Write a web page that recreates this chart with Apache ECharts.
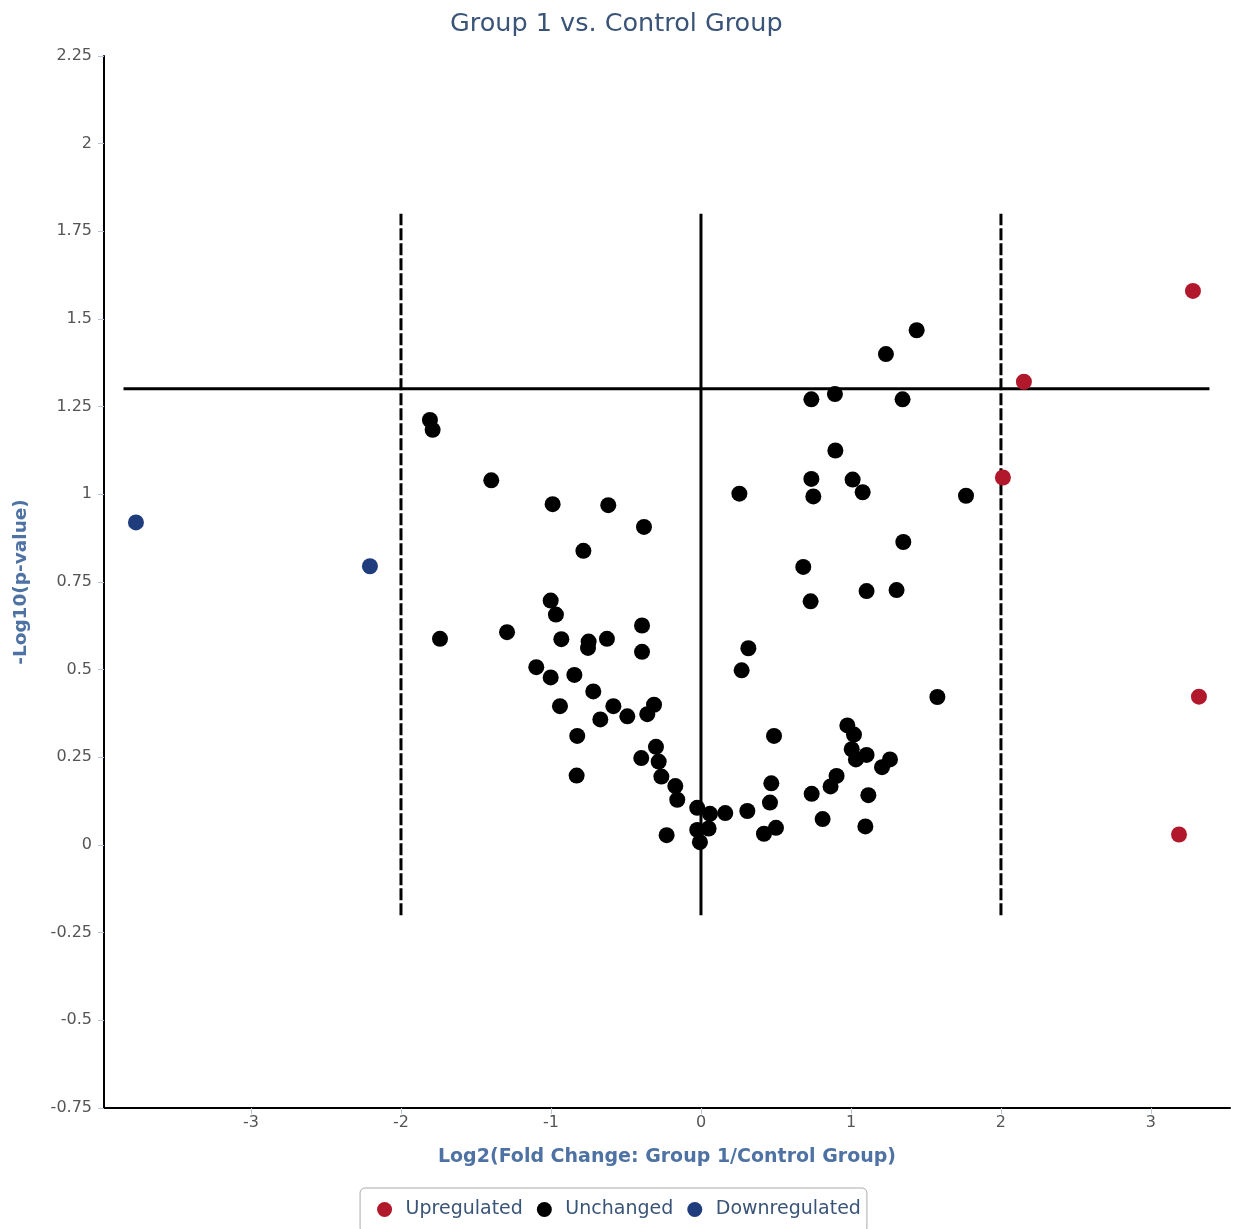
<!DOCTYPE html>
<html>
<head>
<meta charset="utf-8">
<script src="https://cdn.jsdelivr.net/npm/echarts@6/dist/echarts.min.js"></script>
<style>
html,body{margin:0;padding:0;background:#fff;}
#chart{width:1238px;height:1229px;}
</style>
</head>
<body>
<div id="chart"></div>
<script>
// ---- Data (log2 fold change, -log10 p-value) ----
var upregulated = [
  [3.28, 1.580], [2.153, 1.321], [2.013, 1.048], [3.32, 0.423], [3.187, 0.030]
];
var downregulated = [
  [-3.767, 0.920], [-2.207, 0.795]
];
var unchanged = [
  [-1.807, 1.212], [-1.789, 1.184], [-1.398, 1.040], [-0.989, 0.972], [-0.618, 0.969],
  [-0.380, 0.907], [-0.784, 0.839], [-1.002, 0.697], [-0.967, 0.657], [-1.740, 0.588],
  [-1.293, 0.607], [-0.931, 0.587], [-0.749, 0.580], [-0.753, 0.562], [-0.627, 0.588],
  [-0.393, 0.626], [-0.393, 0.551], [-1.098, 0.507], [-1.002, 0.478], [-0.844, 0.485],
  [-0.718, 0.438], [-0.940, 0.396], [-0.584, 0.396], [-0.671, 0.358], [-0.491, 0.367],
  [-0.313, 0.400], [-0.358, 0.373], [-0.825, 0.311], [-0.300, 0.280], [-0.398, 0.248],
  [-0.282, 0.238], [-0.264, 0.195], [-0.829, 0.198], [-0.171, 0.168], [-0.158, 0.129],
  [-0.229, 0.028], [-0.025, 0.106], [0.060, 0.089], [0.162, 0.091], [0.309, 0.097],
  [-0.025, 0.043], [0.051, 0.047], [-0.007, 0.008],
  [0.316, 0.561], [0.271, 0.498], [1.576, 0.422], [0.487, 0.311], [0.976, 0.341],
  [1.020, 0.315], [1.005, 0.273], [1.033, 0.244], [1.104, 0.257], [1.260, 0.244],
  [1.207, 0.222], [0.904, 0.197], [0.864, 0.167], [0.738, 0.146], [1.116, 0.142],
  [0.811, 0.074], [1.096, 0.053], [0.469, 0.176], [0.460, 0.121], [0.500, 0.049],
  [0.420, 0.032], [1.438, 1.468], [1.233, 1.400], [0.736, 1.271], [0.893, 1.286],
  [1.344, 1.271], [0.896, 1.125], [0.736, 1.044], [1.011, 1.042], [0.256, 1.002],
  [0.749, 0.994], [1.078, 1.006], [1.767, 0.996], [1.349, 0.864], [0.682, 0.793],
  [1.104, 0.724], [1.304, 0.727], [0.731, 0.695]
];
// threshold guide lines
var foldThresholds = [-2, 2];
var centerLine = 0;
var vLineRange = [-0.2, 1.8];
var pThreshold = 1.301;
var hLineRange = [-3.85, 3.39];
var xTicks = [-3, -2, -1, 0, 1, 2, 3];
var xRange = [-3.98, 3.527];
var yRange = [-0.75, 2.25];

var FONT = 'DejaVu Sans';
var labelBlue = '#4d72a3';
var tickColor = '#b8c8de';

function vline(x, dashed) {
  return {
    type: 'line', data: [[x, vLineRange[0]], [x, vLineRange[1]]],
    symbol: 'none', silent: true, z: 1,
    lineStyle: { color: '#000', width: 3, type: dashed ? [12, 3] : 'solid' }
  };
}

var chart = echarts.init(document.getElementById('chart'), null, { renderer: 'canvas' });
chart.setOption({
  animation: false,
  backgroundColor: '#fff',
  title: {
    text: 'Group 1 vs. Control Group', left: 445, top: 6,
    textStyle: { fontFamily: FONT, fontSize: 25.5, fontWeight: 'normal', color: '#3a5478' }
  },
  legend: {
    data: ['Upregulated', 'Unchanged', 'Downregulated'],
    left: 'center', top: 1188,
    icon: 'circle', itemWidth: 32, itemHeight: 15, itemGap: 14,
    borderColor: '#aaa', borderWidth: 1, borderRadius: 5,
    padding: [12, 6, 14, 17],
    textStyle: { fontFamily: FONT, fontSize: 19, color: '#3a5478' }
  },
  grid: { left: 104, right: 8, top: 56, bottom: 121, containLabel: false },
  xAxis: {
    type: 'value', min: xRange[0], max: xRange[1],
    name: 'Log2(Fold Change: Group 1/Control Group)',
    nameLocation: 'middle', nameGap: 40,
    nameTextStyle: { fontFamily: FONT, fontSize: 19, fontWeight: 'bold', color: labelBlue },
    splitLine: { show: false },
    axisLine: { onZero: false, lineStyle: { color: '#000', width: 2 } },
    axisTick: { show: true, customValues: xTicks, length: 6, lineStyle: { color: tickColor } },
    axisLabel: { customValues: xTicks, fontFamily: FONT, fontSize: 16, color: '#555', margin: 7 }
  },
  yAxis: {
    type: 'value', min: yRange[0], max: yRange[1], interval: 0.25,
    name: '-Log10(p-value)',
    nameLocation: 'middle', nameGap: 73, nameRotate: 90,
    nameTextStyle: { fontFamily: FONT, fontSize: 18.5, fontWeight: 'bold', color: labelBlue },
    splitLine: { show: false },
    axisLine: { show: true, onZero: false, lineStyle: { color: '#000', width: 2 } },
    axisTick: { show: true, length: 6, lineStyle: { color: tickColor } },
    axisLabel: { fontFamily: FONT, fontSize: 16, color: '#555', margin: 12 }
  },
  series: [
    vline(foldThresholds[0], true),
    vline(centerLine, false),
    vline(foldThresholds[1], true),
    {
      type: 'line', data: [[hLineRange[0], pThreshold], [hLineRange[1], pThreshold]],
      symbol: 'none', silent: true, z: 1,
      lineStyle: { color: '#000', width: 3 }
    },
    {
      name: 'Upregulated', type: 'scatter', data: upregulated, symbolSize: 16, z: 3,
      itemStyle: { color: '#b2182b', opacity: 1 }
    },
    {
      name: 'Unchanged', type: 'scatter', data: unchanged, symbolSize: 16, z: 3,
      itemStyle: { color: '#000', opacity: 1 }
    },
    {
      name: 'Downregulated', type: 'scatter', data: downregulated, symbolSize: 16, z: 3,
      itemStyle: { color: '#1f3c7c', opacity: 1 }
    }
  ]
});
</script>
</body>
</html>
